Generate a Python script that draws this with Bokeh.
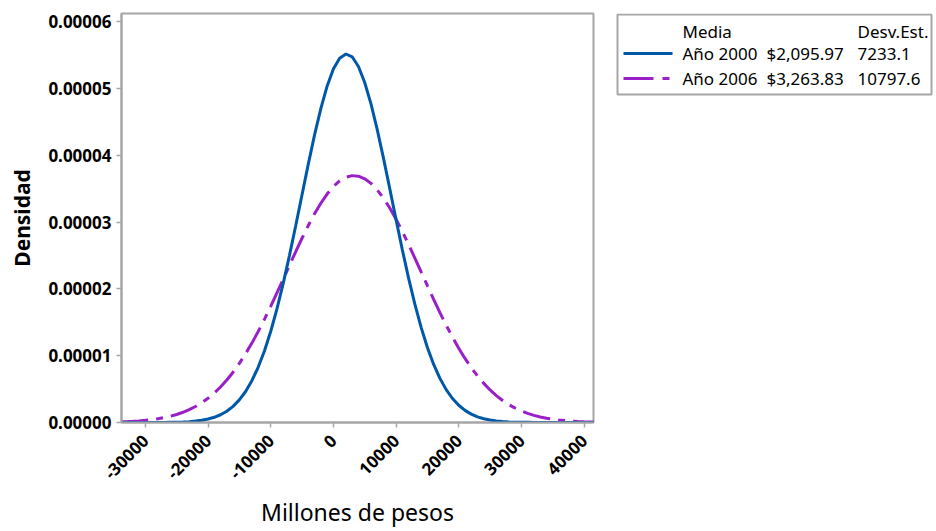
import math
from bokeh.plotting import figure
from bokeh.layouts import row
from bokeh.models import Range1d, FixedTicker
from bokeh.embed import file_html
from bokeh.resources import INLINE
from bokeh.core.properties import value

# ---------------- data (density values, in units of 1e-6) ----
x_vals = list(range(-34000, 42001, 1000))
dens_2000 = [0.00, 0.00, 0.00, 0.00, 0.00, 0.00, 0.01, 0.01, 0.03, 0.05,
             0.08, 0.13, 0.21, 0.34, 0.52, 0.78, 1.16, 1.69, 2.41, 3.38,
             4.64, 6.25, 8.26, 10.71, 13.62, 17.00, 20.82, 25.01, 29.48, 34.08,
             38.66, 43.03, 46.98, 50.32, 52.88, 54.52, 55.14, 54.72, 53.27, 50.88,
             47.67, 43.83, 39.52, 34.97, 30.36, 25.85, 21.60, 17.70, 14.24, 11.23,
             8.69, 6.60, 4.92, 3.59, 2.58, 1.81, 1.25, 0.85, 0.56, 0.37,
             0.23, 0.15, 0.09, 0.05, 0.03, 0.02, 0.01, 0.01, 0.00, 0.00,
             0.00, 0.00, 0.00, 0.00, 0.00, 0.00, 0.00]
dens_2006 = [0.10, 0.13, 0.18, 0.24, 0.32, 0.43, 0.56, 0.73, 0.94, 1.20,
             1.53, 1.92, 2.39, 2.96, 3.63, 4.41, 5.31, 6.35, 7.52, 8.84,
             10.29, 11.88, 13.60, 15.44, 17.38, 19.39, 21.44, 23.52, 25.57, 27.57,
             29.47, 31.23, 32.81, 34.18, 35.30, 36.15, 36.70, 36.94, 36.86, 36.47,
             35.78, 34.80, 33.56, 32.09, 30.42, 28.59, 26.64, 24.61, 22.54, 20.47,
             18.43, 16.45, 14.56, 12.78, 11.12, 9.59, 8.20, 6.95, 5.85, 4.87,
             4.03, 3.30, 2.68, 2.16, 1.72, 1.36, 1.07, 0.83, 0.64, 0.49,
             0.37, 0.28, 0.21, 0.15, 0.11, 0.08, 0.06]
DENS_UNIT = 1e-6

x_ticks = [-30000, -20000, -10000, 0, 10000, 20000, 30000, 40000]
x_tick_labels = ["-30000", "-20000", "-10000", "0", "10000", "20000", "30000", "40000"]
y_ticks = [0.0, 0.00001, 0.00002, 0.00003, 0.00004, 0.00005, 0.00006]
y_tick_labels = ["0.00000", "0.00001", "0.00002", "0.00003", "0.00004", "0.00005", "0.00006"]

series_names = ["Año 2000", "Año 2006"]
series_means = ["$2,095.97", "$3,263.83"]
series_sds = ["7233.1", "10797.6"]
header_mean = "Media"
header_sd = "Desv.Est."
x_title = "Millones de pesos"
y_title = "Densidad"

# ---------------- style ----------------
FONT = "Noto Sans"
BLUE = "#0058A8"
PURPLE = "#9B1FC8"
GRAY = "#A6A6A6"
DASH = "28 8 7 8"
H = 531
FRAME_TOP = 13
FRAME_BOTTOM = 422

p = figure(width=613, height=H, output_backend="svg", toolbar_location=None,
           x_range=Range1d(-33800, 41500), y_range=Range1d(0, 0.0000612),
           min_border_left=121, min_border_right=20, min_border_top=FRAME_TOP,
           min_border_bottom=H - FRAME_BOTTOM)
p.xgrid.visible = False
p.ygrid.visible = False
p.outline_line_color = GRAY
p.outline_line_width = 2
p.background_fill_color = "white"
p.border_fill_color = "white"

y2006 = [v * DENS_UNIT for v in dens_2006]
y2000 = [v * DENS_UNIT for v in dens_2000]
p.line(x_vals, y2006, line_color=PURPLE, line_width=3, line_dash=DASH)
p.line(x_vals, y2000, line_color=BLUE, line_width=3)

p.xaxis.ticker = FixedTicker(ticks=x_ticks)
p.xaxis.major_label_overrides = {t: l for t, l in zip(x_ticks, x_tick_labels)}
p.yaxis.ticker = FixedTicker(ticks=y_ticks)
p.yaxis.major_label_overrides = {t: l for t, l in zip(y_ticks, y_tick_labels)}
p.xaxis.major_label_orientation = math.pi / 4

for ax in (p.xaxis[0], p.yaxis[0]):
    ax.axis_line_color = GRAY
    ax.axis_line_width = 2
    ax.major_tick_line_color = GRAY
    ax.major_tick_line_width = 1.5
    ax.major_tick_out = 5
    ax.major_tick_in = 0
    ax.minor_tick_line_color = None
    ax.major_label_text_font = FONT
    ax.major_label_text_font_style = "bold"
    ax.major_label_text_font_size = "17px"
    ax.major_label_text_color = "black"
    ax.major_label_standoff = 5
    ax.axis_label_text_font = FONT
    ax.axis_label_text_color = "black"

p.xaxis.major_label_standoff = 10
p.xaxis.axis_label = x_title
p.xaxis.axis_label_text_font_size = "23px"
p.xaxis.axis_label_text_font_style = "normal"
p.xaxis.axis_label_standoff = 8
p.yaxis.axis_label = y_title
p.yaxis.axis_label_text_font_size = "21px"
p.yaxis.axis_label_text_font_style = "bold"
p.yaxis.axis_label_standoff = 9

# ---------------- legend panel ----------------
# The row aligns this panel's frame with the plot frame, so its y range spans the
# same page rows (top -> bottom), letting legend positions be given in page pixels.
LW = 321
lg = figure(width=LW, height=H, output_backend="svg", toolbar_location=None,
            x_range=Range1d(0, LW), y_range=Range1d(FRAME_BOTTOM, FRAME_TOP),
            min_border=0, x_axis_location=None, y_axis_location=None)
lg.grid.visible = False
lg.outline_line_color = None
lg.background_fill_color = "white"
lg.border_fill_color = "white"

lg.quad(left=[4], right=[318], top=[14], bottom=[94], fill_color=None,
        line_color=GRAY, line_width=2)

row_y = [53, 78]
head_y = [31]
common = dict(text_font=value(FONT), text_font_size="17px",
              text_baseline="middle", text_color="black")
lg.text(x=[69], y=head_y, text=[header_mean], **common)
lg.text(x=[244], y=head_y, text=[header_sd], **common)
lg.text(x=[69, 69], y=row_y, text=series_names, **common)
lg.text(x=[153, 153], y=row_y, text=series_means, **common)
lg.text(x=[244, 244], y=row_y, text=series_sds, **common)
lg.line([10, 59], [row_y[0], row_y[0]], line_color=BLUE, line_width=3)
lg.line([10, 56], [row_y[1], row_y[1]], line_color=PURPLE, line_width=3,
        line_dash="30 9 7 9")

layout = row(p, lg)
open("out.html", "w").write(file_html(layout, INLINE))
